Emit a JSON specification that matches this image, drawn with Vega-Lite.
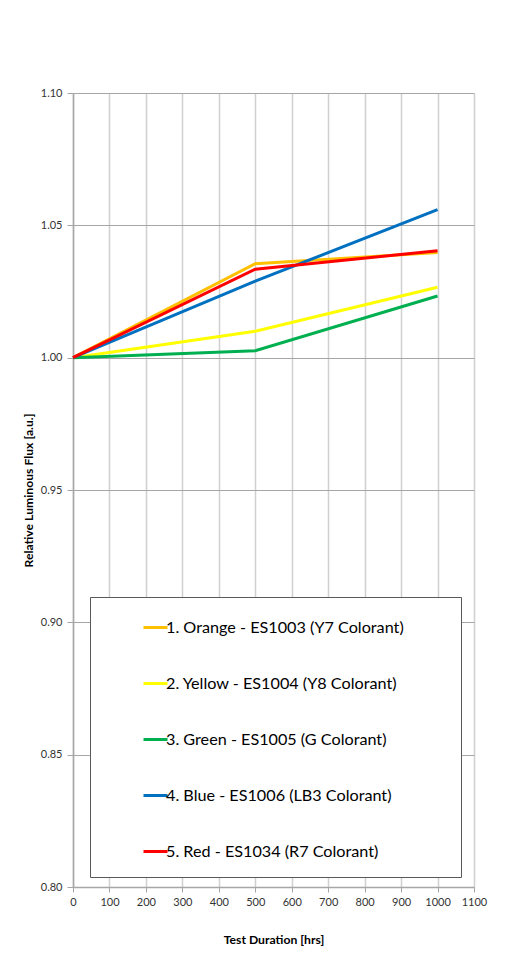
{
  "$schema": "https://vega.github.io/schema/vega-lite/v6.json",
  "width": 401,
  "height": 794,
  "autosize": "none",
  "padding": {"left": 73, "top": 93, "right": 39, "bottom": 81},
  "background": "white",
  "config": {"view": {"stroke": null}, "font": "Lato"},
  "data": {
    "values": [
      {"series": "1. Orange - ES1003 (Y7 Colorant)", "hours": 0, "flux": 1.0},
      {"series": "1. Orange - ES1003 (Y7 Colorant)", "hours": 500, "flux": 1.0355},
      {"series": "1. Orange - ES1003 (Y7 Colorant)", "hours": 1000, "flux": 1.0397},
      {"series": "2. Yellow - ES1004 (Y8 Colorant)", "hours": 0, "flux": 1.0},
      {"series": "2. Yellow - ES1004 (Y8 Colorant)", "hours": 500, "flux": 1.01},
      {"series": "2. Yellow - ES1004 (Y8 Colorant)", "hours": 1000, "flux": 1.0266},
      {"series": "3. Green - ES1005 (G Colorant)", "hours": 0, "flux": 1.0},
      {"series": "3. Green - ES1005 (G Colorant)", "hours": 500, "flux": 1.0026},
      {"series": "3. Green - ES1005 (G Colorant)", "hours": 1000, "flux": 1.0233},
      {"series": "4. Blue - ES1006 (LB3 Colorant)", "hours": 0, "flux": 1.0},
      {"series": "4. Blue - ES1006 (LB3 Colorant)", "hours": 500, "flux": 1.0289},
      {"series": "4. Blue - ES1006 (LB3 Colorant)", "hours": 1000, "flux": 1.0559},
      {"series": "5. Red - ES1034 (R7 Colorant)", "hours": 0, "flux": 1.0},
      {"series": "5. Red - ES1034 (R7 Colorant)", "hours": 500, "flux": 1.0334},
      {"series": "5. Red - ES1034 (R7 Colorant)", "hours": 1000, "flux": 1.0404}
    ]
  },
  "mark": {"type": "line", "strokeWidth": 3},
  "encoding": {
    "x": {
      "field": "hours",
      "type": "quantitative",
      "scale": {"domain": [0, 1100], "nice": false},
      "axis": {
        "title": "Test Duration [hrs]",
        "values": [0, 100, 200, 300, 400, 500, 600, 700, 800, 900, 1000, 1100],
        "format": "d",
        "grid": true,
        "gridColor": "#d0d0d0",
        "gridWidth": 1.5,
        "domainColor": "#a6a6a6",
        "domainWidth": 1.5,
        "tickColor": "#a6a6a6",
        "tickSize": 5,
        "labelFontSize": 11,
        "labelColor": "#333333",
        "labelPadding": 4,
        "labelFlush": false,
        "labelOverlap": false,
        "titleFontSize": 12.2,
        "titleFontWeight": "bold",
        "titleColor": "#000000",
        "titlePadding": 26
      }
    },
    "y": {
      "field": "flux",
      "type": "quantitative",
      "scale": {"domain": [0.8, 1.1], "nice": false, "zero": false},
      "axis": {
        "title": "Relative Luminous Flux [a.u.]",
        "values": [0.8, 0.85, 0.9, 0.95, 1.0, 1.05, 1.1],
        "format": ".2f",
        "grid": true,
        "gridColor": "#a6a6a6",
        "gridWidth": 1.2,
        "domainColor": "#a6a6a6",
        "domainWidth": 1.5,
        "tickColor": "#a6a6a6",
        "tickSize": 6,
        "labelFontSize": 11,
        "labelColor": "#333333",
        "labelPadding": 5,
        "labelFlush": false,
        "labelOverlap": false,
        "titleFontSize": 12.2,
        "titleFontWeight": "bold",
        "titleColor": "#000000",
        "titlePadding": 5
      }
    },
    "color": {
      "field": "series",
      "type": "nominal",
      "scale": {
        "domain": [
          "1. Orange - ES1003 (Y7 Colorant)",
          "2. Yellow - ES1004 (Y8 Colorant)",
          "3. Green - ES1005 (G Colorant)",
          "4. Blue - ES1006 (LB3 Colorant)",
          "5. Red - ES1034 (R7 Colorant)"
        ],
        "range": ["#FFC000", "#FFFF00", "#00B050", "#0070C0", "#FF0000"]
      },
      "legend": {
        "title": "\u00a0",
        "titleOrient": "right",
        "titleFontSize": 1,
        "titlePadding": 40,
        "orient": "none",
        "legendX": 17,
        "legendY": 504,
        "padding": 17,
        "strokeColor": "#595959",
        "fillColor": "white",
        "symbolType": "stroke",
        "symbolSize": 576,
        "symbolStrokeWidth": 3,
        "symbolOffset": 35,
        "labelOffset": -3,
        "labelFontSize": 16.2,
        "labelColor": "#000000",
        "labelLimit": 0,
        "rowPadding": 34
      }
    }
  }
}
